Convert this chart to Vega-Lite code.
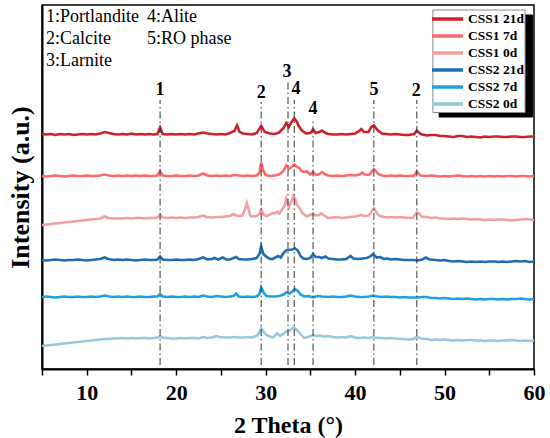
{
  "$schema": "https://vega.github.io/schema/vega-lite/v6.json",
  "width": 492,
  "height": 364,
  "autosize": "none",
  "padding": {"left": 42, "top": 5, "right": 16, "bottom": 69},
  "config": {
    "font": "Liberation Serif",
    "view": {"stroke": "black", "strokeWidth": 1.5},
    "axis": {"grid": false, "domainColor": "black", "domainWidth": 2, "tickColor": "black", "tickWidth": 1.5}
  },
  "datasets": {
    "css1_21d": [
      {"theta":5,"intensity":237},{"theta":5.5,"intensity":236.5},{"theta":6,"intensity":237},{"theta":6.5,"intensity":236},{"theta":7,"intensity":237},{"theta":7.5,"intensity":236.5},{"theta":8,"intensity":237},{"theta":8.5,"intensity":236},{"theta":9,"intensity":236.5},{"theta":9.5,"intensity":237},{"theta":10,"intensity":236.5},{"theta":10.5,"intensity":237},{"theta":11,"intensity":236.5},{"theta":11.5,"intensity":237.5},{"theta":12,"intensity":239},{"theta":12.5,"intensity":238},{"theta":13,"intensity":237},{"theta":13.5,"intensity":236.5},{"theta":14,"intensity":237},{"theta":14.5,"intensity":236.5},{"theta":15,"intensity":237.5},{"theta":15.5,"intensity":236.5},{"theta":16,"intensity":237},{"theta":16.5,"intensity":236.5},{"theta":17,"intensity":237},{"theta":17.5,"intensity":236.5},{"theta":17.9,"intensity":237},{"theta":18.2,"intensity":243.5},{"theta":18.5,"intensity":237},{"theta":19,"intensity":236.5},{"theta":19.5,"intensity":237},{"theta":20,"intensity":236.5},{"theta":20.5,"intensity":237},{"theta":21,"intensity":236.5},{"theta":21.5,"intensity":237},{"theta":22,"intensity":236.5},{"theta":22.5,"intensity":237.5},{"theta":23,"intensity":238.5},{"theta":23.5,"intensity":237.5},{"theta":24,"intensity":237},{"theta":24.5,"intensity":236.5},{"theta":25,"intensity":237},{"theta":25.5,"intensity":236.5},{"theta":26,"intensity":238},{"theta":26.5,"intensity":240},{"theta":26.8,"intensity":245.5},{"theta":27.1,"intensity":239},{"theta":27.5,"intensity":237.5},{"theta":28,"intensity":237},{"theta":28.5,"intensity":236.5},{"theta":29,"intensity":238},{"theta":29.5,"intensity":245},{"theta":29.9,"intensity":239},{"theta":30.5,"intensity":237.5},{"theta":31,"intensity":237},{"theta":31.5,"intensity":238.5},{"theta":32,"intensity":243},{"theta":32.3,"intensity":248},{"theta":32.6,"intensity":244},{"theta":32.9,"intensity":249},{"theta":33.2,"intensity":252.5},{"theta":33.5,"intensity":249},{"theta":33.7,"intensity":245},{"theta":34,"intensity":241},{"theta":34.5,"intensity":237.5},{"theta":35,"intensity":238},{"theta":35.3,"intensity":241.5},{"theta":35.6,"intensity":238},{"theta":36,"intensity":239},{"theta":36.3,"intensity":240.5},{"theta":36.7,"intensity":238},{"theta":37,"intensity":237},{"theta":37.5,"intensity":236.5},{"theta":38,"intensity":236.5},{"theta":38.5,"intensity":237},{"theta":39,"intensity":236.5},{"theta":39.5,"intensity":237},{"theta":40,"intensity":237.5},{"theta":40.4,"intensity":239.5},{"theta":40.7,"intensity":242},{"theta":41,"intensity":239},{"theta":41.5,"intensity":239},{"theta":41.8,"intensity":244},{"theta":42.1,"intensity":245.5},{"theta":42.5,"intensity":241},{"theta":43,"intensity":237.5},{"theta":43.5,"intensity":237},{"theta":44,"intensity":236.5},{"theta":44.5,"intensity":237},{"theta":45,"intensity":236.5},{"theta":45.5,"intensity":236},{"theta":46,"intensity":236},{"theta":46.6,"intensity":237},{"theta":46.9,"intensity":240.5},{"theta":47.3,"intensity":237},{"theta":48,"intensity":235.5},{"theta":48.5,"intensity":236},{"theta":49,"intensity":236},{"theta":49.5,"intensity":235},{"theta":50,"intensity":235},{"theta":50.5,"intensity":234.5},{"theta":51,"intensity":234},{"theta":51.5,"intensity":235},{"theta":52,"intensity":235},{"theta":52.5,"intensity":234},{"theta":53,"intensity":234.5},{"theta":53.5,"intensity":234},{"theta":54,"intensity":233.5},{"theta":54.5,"intensity":234.5},{"theta":55,"intensity":234},{"theta":55.5,"intensity":234.5},{"theta":56,"intensity":234.5},{"theta":56.5,"intensity":234},{"theta":57,"intensity":234},{"theta":57.5,"intensity":234.5},{"theta":58,"intensity":234.5},{"theta":58.5,"intensity":234},{"theta":59,"intensity":234},{"theta":59.5,"intensity":234.5},{"theta":60,"intensity":234.5}
    ],
    "css1_7d": [
      {"theta":5,"intensity":195},{"theta":5.5,"intensity":194.5},{"theta":6,"intensity":195},{"theta":6.5,"intensity":195.5},{"theta":7,"intensity":195},{"theta":7.5,"intensity":194.5},{"theta":8,"intensity":195},{"theta":8.5,"intensity":195.5},{"theta":9,"intensity":195},{"theta":9.5,"intensity":195},{"theta":10,"intensity":195.5},{"theta":10.5,"intensity":195},{"theta":11,"intensity":195},{"theta":11.5,"intensity":195.5},{"theta":12,"intensity":196.5},{"theta":12.5,"intensity":195.5},{"theta":13,"intensity":195},{"theta":13.5,"intensity":195.5},{"theta":14,"intensity":195},{"theta":14.5,"intensity":195.5},{"theta":15,"intensity":195},{"theta":15.5,"intensity":195.5},{"theta":16,"intensity":195},{"theta":16.5,"intensity":195.5},{"theta":17,"intensity":195},{"theta":17.5,"intensity":195},{"theta":17.9,"intensity":195.5},{"theta":18.2,"intensity":200},{"theta":18.5,"intensity":195.5},{"theta":19,"intensity":195},{"theta":19.5,"intensity":195},{"theta":20,"intensity":195.5},{"theta":20.5,"intensity":195},{"theta":21,"intensity":195},{"theta":21.5,"intensity":195.5},{"theta":22,"intensity":195},{"theta":22.5,"intensity":195.5},{"theta":23,"intensity":197.5},{"theta":23.5,"intensity":195.5},{"theta":24,"intensity":195},{"theta":24.5,"intensity":195.5},{"theta":25,"intensity":195},{"theta":25.5,"intensity":195.5},{"theta":26,"intensity":195},{"theta":26.5,"intensity":196},{"theta":27,"intensity":195.5},{"theta":27.5,"intensity":195},{"theta":28,"intensity":195.5},{"theta":28.5,"intensity":195},{"theta":29,"intensity":195.5},{"theta":29.3,"intensity":198},{"theta":29.5,"intensity":208.5},{"theta":29.75,"intensity":200},{"theta":30,"intensity":196},{"theta":30.5,"intensity":195},{"theta":31,"intensity":195.5},{"theta":31.5,"intensity":196.5},{"theta":32,"intensity":200},{"theta":32.3,"intensity":205.5},{"theta":32.6,"intensity":202},{"theta":32.9,"intensity":204},{"theta":33.2,"intensity":206.5},{"theta":33.5,"intensity":204},{"theta":33.7,"intensity":203.5},{"theta":34,"intensity":200},{"theta":34.3,"intensity":199},{"theta":34.6,"intensity":199.5},{"theta":35,"intensity":196.5},{"theta":35.3,"intensity":199},{"theta":35.6,"intensity":196},{"theta":36,"intensity":197},{"theta":36.3,"intensity":199},{"theta":36.7,"intensity":196.5},{"theta":37,"intensity":195.5},{"theta":37.5,"intensity":195},{"theta":38,"intensity":195.5},{"theta":38.5,"intensity":195},{"theta":39,"intensity":195.5},{"theta":39.5,"intensity":196},{"theta":40,"intensity":195.5},{"theta":40.5,"intensity":196.5},{"theta":40.8,"intensity":198.5},{"theta":41.2,"intensity":196},{"theta":41.6,"intensity":196.5},{"theta":42.1,"intensity":202},{"theta":42.6,"intensity":197},{"theta":43,"intensity":195.5},{"theta":43.5,"intensity":195},{"theta":44,"intensity":195.5},{"theta":44.5,"intensity":195},{"theta":45,"intensity":195.5},{"theta":45.5,"intensity":195},{"theta":46,"intensity":195},{"theta":46.6,"intensity":195.5},{"theta":46.9,"intensity":199.5},{"theta":47.3,"intensity":195.5},{"theta":48,"intensity":195},{"theta":48.5,"intensity":195.5},{"theta":49,"intensity":195},{"theta":49.5,"intensity":194.5},{"theta":50,"intensity":195},{"theta":50.5,"intensity":194.5},{"theta":51,"intensity":195},{"theta":51.5,"intensity":195.5},{"theta":52,"intensity":195},{"theta":52.5,"intensity":194.5},{"theta":53,"intensity":195},{"theta":53.5,"intensity":194.5},{"theta":54,"intensity":195},{"theta":54.5,"intensity":194.5},{"theta":55,"intensity":195},{"theta":55.5,"intensity":194.5},{"theta":56,"intensity":195},{"theta":56.5,"intensity":194.5},{"theta":57,"intensity":195},{"theta":57.5,"intensity":195},{"theta":58,"intensity":194.5},{"theta":58.5,"intensity":195},{"theta":59,"intensity":195},{"theta":59.5,"intensity":194.5},{"theta":60,"intensity":195}
    ],
    "css1_0d": [
      {"theta":5,"intensity":146},{"theta":5.5,"intensity":146.5},{"theta":6,"intensity":147},{"theta":6.5,"intensity":147.5},{"theta":7,"intensity":148},{"theta":7.5,"intensity":148.5},{"theta":8,"intensity":149},{"theta":8.5,"intensity":149.5},{"theta":9,"intensity":150},{"theta":9.5,"intensity":150.5},{"theta":10,"intensity":151},{"theta":10.5,"intensity":151.5},{"theta":11,"intensity":152},{"theta":11.5,"intensity":152.5},{"theta":12,"intensity":154.5},{"theta":12.4,"intensity":153},{"theta":13,"intensity":152.5},{"theta":13.5,"intensity":152.5},{"theta":14,"intensity":152.5},{"theta":14.5,"intensity":153},{"theta":15,"intensity":152.5},{"theta":15.5,"intensity":153},{"theta":16,"intensity":153},{"theta":16.5,"intensity":152.5},{"theta":17,"intensity":153},{"theta":17.5,"intensity":153},{"theta":17.9,"intensity":153.5},{"theta":18.2,"intensity":156},{"theta":18.5,"intensity":153.5},{"theta":19,"intensity":153},{"theta":19.5,"intensity":153.5},{"theta":20,"intensity":153},{"theta":20.5,"intensity":153.5},{"theta":21,"intensity":153},{"theta":21.5,"intensity":153.5},{"theta":22,"intensity":153.5},{"theta":22.5,"intensity":154},{"theta":23,"intensity":155.5},{"theta":23.4,"intensity":154},{"theta":24,"intensity":153.5},{"theta":24.5,"intensity":154},{"theta":25,"intensity":154},{"theta":25.5,"intensity":154.5},{"theta":26,"intensity":155},{"theta":26.4,"intensity":157},{"theta":26.7,"intensity":155.5},{"theta":27,"intensity":155},{"theta":27.4,"intensity":155.5},{"theta":27.7,"intensity":162},{"theta":27.9,"intensity":168},{"theta":28.1,"intensity":162},{"theta":28.3,"intensity":155},{"theta":28.6,"intensity":154.5},{"theta":29,"intensity":155},{"theta":29.3,"intensity":157},{"theta":29.5,"intensity":161.5},{"theta":29.8,"intensity":156},{"theta":30.1,"intensity":155},{"theta":30.5,"intensity":156.5},{"theta":30.8,"intensity":158},{"theta":31.1,"intensity":158},{"theta":31.3,"intensity":159.5},{"theta":31.5,"intensity":157.5},{"theta":31.8,"intensity":161},{"theta":32.1,"intensity":165},{"theta":32.3,"intensity":172.5},{"theta":32.6,"intensity":164},{"theta":32.9,"intensity":170},{"theta":33.1,"intensity":175},{"theta":33.3,"intensity":172},{"theta":33.5,"intensity":166},{"theta":33.8,"intensity":163},{"theta":34.1,"intensity":158},{"theta":34.6,"intensity":154.5},{"theta":35,"intensity":156},{"theta":35.3,"intensity":157.5},{"theta":35.6,"intensity":155.5},{"theta":36,"intensity":156},{"theta":36.2,"intensity":157.5},{"theta":36.6,"intensity":155},{"theta":37,"intensity":153},{"theta":37.5,"intensity":153.5},{"theta":38,"intensity":154},{"theta":38.5,"intensity":153},{"theta":39,"intensity":153.5},{"theta":39.5,"intensity":154},{"theta":40,"intensity":154.5},{"theta":40.4,"intensity":155.5},{"theta":40.7,"intensity":156},{"theta":41,"intensity":155},{"theta":41.5,"intensity":155.5},{"theta":41.8,"intensity":159},{"theta":42.1,"intensity":162.5},{"theta":42.5,"intensity":157},{"theta":42.8,"intensity":155},{"theta":43.2,"intensity":154},{"theta":43.7,"intensity":153.5},{"theta":44,"intensity":154},{"theta":44.5,"intensity":153.5},{"theta":45,"intensity":154},{"theta":45.5,"intensity":153.5},{"theta":46,"intensity":153},{"theta":46.5,"intensity":153.5},{"theta":46.9,"intensity":159},{"theta":47.2,"intensity":157},{"theta":47.5,"intensity":154},{"theta":48,"intensity":154},{"theta":48.5,"intensity":153},{"theta":49,"intensity":153.5},{"theta":49.5,"intensity":152.5},{"theta":50,"intensity":152.5},{"theta":50.5,"intensity":152},{"theta":51,"intensity":152.5},{"theta":51.5,"intensity":152},{"theta":52,"intensity":152.5},{"theta":52.5,"intensity":152},{"theta":53,"intensity":151.5},{"theta":53.5,"intensity":152},{"theta":54,"intensity":151.5},{"theta":54.5,"intensity":151},{"theta":55,"intensity":151.5},{"theta":55.5,"intensity":151},{"theta":56,"intensity":151.5},{"theta":56.5,"intensity":151.5},{"theta":57,"intensity":151},{"theta":57.5,"intensity":150.5},{"theta":58,"intensity":151},{"theta":58.5,"intensity":151.5},{"theta":59,"intensity":152},{"theta":59.5,"intensity":151.5},{"theta":60,"intensity":151}
    ],
    "css2_21d": [
      {"theta":5,"intensity":111},{"theta":5.5,"intensity":110.5},{"theta":6,"intensity":111},{"theta":6.5,"intensity":111.5},{"theta":7,"intensity":111},{"theta":7.5,"intensity":110.5},{"theta":8,"intensity":111},{"theta":8.5,"intensity":111},{"theta":9,"intensity":111.5},{"theta":9.5,"intensity":111},{"theta":10,"intensity":110.5},{"theta":10.5,"intensity":111},{"theta":11,"intensity":111.5},{"theta":11.5,"intensity":112},{"theta":12,"intensity":113.5},{"theta":12.4,"intensity":112},{"theta":13,"intensity":111},{"theta":13.5,"intensity":111.5},{"theta":14,"intensity":111},{"theta":14.5,"intensity":111.5},{"theta":15,"intensity":111},{"theta":15.5,"intensity":110.5},{"theta":16,"intensity":111},{"theta":16.5,"intensity":111.5},{"theta":17,"intensity":111},{"theta":17.5,"intensity":111},{"theta":17.9,"intensity":111.5},{"theta":18.2,"intensity":114.5},{"theta":18.5,"intensity":111.5},{"theta":19,"intensity":111},{"theta":19.5,"intensity":111},{"theta":20,"intensity":111.5},{"theta":20.5,"intensity":111},{"theta":21,"intensity":111},{"theta":21.5,"intensity":111.5},{"theta":22,"intensity":111},{"theta":22.5,"intensity":112},{"theta":23,"intensity":113.5},{"theta":23.5,"intensity":111.5},{"theta":24,"intensity":112},{"theta":24.3,"intensity":113},{"theta":24.7,"intensity":111.5},{"theta":25.2,"intensity":113.5},{"theta":25.6,"intensity":111.5},{"theta":26,"intensity":111.5},{"theta":26.7,"intensity":114},{"theta":27,"intensity":112},{"theta":27.5,"intensity":111.5},{"theta":28,"intensity":111.5},{"theta":28.5,"intensity":112},{"theta":29,"intensity":113},{"theta":29.3,"intensity":117},{"theta":29.5,"intensity":124.5},{"theta":29.75,"intensity":117},{"theta":30.1,"intensity":114},{"theta":30.5,"intensity":112},{"theta":30.8,"intensity":112},{"theta":31.1,"intensity":113.5},{"theta":31.4,"intensity":115},{"theta":31.7,"intensity":113.5},{"theta":32,"intensity":118},{"theta":32.3,"intensity":120.5},{"theta":32.6,"intensity":121},{"theta":33,"intensity":121.5},{"theta":33.3,"intensity":122.5},{"theta":33.6,"intensity":120.5},{"theta":33.9,"intensity":115},{"theta":34.2,"intensity":112.5},{"theta":34.6,"intensity":112},{"theta":35,"intensity":113},{"theta":35.3,"intensity":117},{"theta":35.6,"intensity":114},{"theta":36,"intensity":114},{"theta":36.3,"intensity":113},{"theta":36.7,"intensity":114.5},{"theta":37,"intensity":112.5},{"theta":37.5,"intensity":112},{"theta":38,"intensity":111.5},{"theta":38.5,"intensity":111.5},{"theta":39,"intensity":112},{"theta":39.5,"intensity":115},{"theta":39.8,"intensity":112.5},{"theta":40.3,"intensity":112},{"theta":40.8,"intensity":112.5},{"theta":41.3,"intensity":113},{"theta":41.7,"intensity":114.5},{"theta":42,"intensity":117},{"theta":42.4,"intensity":113.5},{"theta":42.8,"intensity":114},{"theta":43.2,"intensity":112},{"theta":43.6,"intensity":112.5},{"theta":44,"intensity":111.5},{"theta":44.5,"intensity":112},{"theta":45,"intensity":111.5},{"theta":45.5,"intensity":111},{"theta":46,"intensity":111},{"theta":46.5,"intensity":111},{"theta":47,"intensity":110.5},{"theta":47.5,"intensity":111.5},{"theta":47.9,"intensity":113.5},{"theta":48.3,"intensity":111.5},{"theta":49,"intensity":111},{"theta":49.5,"intensity":110.5},{"theta":50,"intensity":111},{"theta":50.5,"intensity":110},{"theta":51,"intensity":109.5},{"theta":51.5,"intensity":110},{"theta":52,"intensity":109.5},{"theta":52.5,"intensity":109},{"theta":53,"intensity":109.5},{"theta":53.5,"intensity":109},{"theta":54,"intensity":109.5},{"theta":54.5,"intensity":109},{"theta":55,"intensity":109.5},{"theta":55.5,"intensity":109.5},{"theta":56,"intensity":109},{"theta":56.5,"intensity":109.5},{"theta":57,"intensity":109},{"theta":57.5,"intensity":109.5},{"theta":58,"intensity":110},{"theta":58.5,"intensity":109.5},{"theta":59,"intensity":110},{"theta":59.5,"intensity":109},{"theta":60,"intensity":109.5}
    ],
    "css2_7d": [
      {"theta":5,"intensity":74},{"theta":5.5,"intensity":74.5},{"theta":6,"intensity":74},{"theta":6.5,"intensity":73.5},{"theta":7,"intensity":74},{"theta":7.5,"intensity":74.5},{"theta":8,"intensity":74},{"theta":8.5,"intensity":74},{"theta":9,"intensity":74.5},{"theta":9.5,"intensity":74},{"theta":10,"intensity":74},{"theta":10.5,"intensity":74.5},{"theta":11,"intensity":74},{"theta":11.5,"intensity":74.5},{"theta":12,"intensity":75.5},{"theta":12.5,"intensity":74.5},{"theta":13,"intensity":74},{"theta":13.5,"intensity":74.5},{"theta":14,"intensity":74},{"theta":14.5,"intensity":74.5},{"theta":15,"intensity":74},{"theta":15.5,"intensity":74},{"theta":16,"intensity":74.5},{"theta":16.5,"intensity":74},{"theta":17,"intensity":74},{"theta":17.5,"intensity":74.5},{"theta":17.9,"intensity":74.5},{"theta":18.2,"intensity":77},{"theta":18.5,"intensity":74.5},{"theta":19,"intensity":74},{"theta":19.5,"intensity":74.5},{"theta":20,"intensity":74},{"theta":20.5,"intensity":74},{"theta":21,"intensity":74.5},{"theta":21.5,"intensity":74},{"theta":22,"intensity":74.5},{"theta":22.5,"intensity":74},{"theta":23,"intensity":75.5},{"theta":23.5,"intensity":74.5},{"theta":24,"intensity":74},{"theta":24.5,"intensity":75},{"theta":25,"intensity":74.5},{"theta":25.5,"intensity":74},{"theta":26,"intensity":74.5},{"theta":26.4,"intensity":75},{"theta":26.7,"intensity":77.5},{"theta":27,"intensity":74.5},{"theta":27.5,"intensity":74},{"theta":28,"intensity":74.5},{"theta":28.5,"intensity":74},{"theta":29,"intensity":74.5},{"theta":29.3,"intensity":77},{"theta":29.5,"intensity":83.5},{"theta":29.8,"intensity":78},{"theta":30.1,"intensity":75},{"theta":30.5,"intensity":74.5},{"theta":31,"intensity":74.5},{"theta":31.5,"intensity":75},{"theta":32,"intensity":76.5},{"theta":32.3,"intensity":78.5},{"theta":32.7,"intensity":77.5},{"theta":33,"intensity":80},{"theta":33.3,"intensity":82},{"theta":33.6,"intensity":80},{"theta":33.9,"intensity":76.5},{"theta":34.3,"intensity":74.5},{"theta":34.8,"intensity":75},{"theta":35.3,"intensity":73.5},{"theta":35.8,"intensity":75},{"theta":36.3,"intensity":74.5},{"theta":37,"intensity":74},{"theta":37.5,"intensity":74.5},{"theta":38,"intensity":74},{"theta":38.5,"intensity":74},{"theta":39,"intensity":74.5},{"theta":39.5,"intensity":75.5},{"theta":40,"intensity":74.5},{"theta":40.5,"intensity":74},{"theta":41,"intensity":74},{"theta":41.5,"intensity":74.5},{"theta":42,"intensity":75.5},{"theta":42.5,"intensity":74.5},{"theta":43,"intensity":74},{"theta":43.5,"intensity":74.5},{"theta":44,"intensity":74},{"theta":44.5,"intensity":74},{"theta":45,"intensity":73.5},{"theta":45.5,"intensity":74},{"theta":46,"intensity":73.5},{"theta":46.5,"intensity":73.5},{"theta":47,"intensity":73.5},{"theta":47.5,"intensity":74},{"theta":48,"intensity":74},{"theta":48.5,"intensity":73},{"theta":49,"intensity":73},{"theta":49.5,"intensity":72.5},{"theta":50,"intensity":73},{"theta":50.5,"intensity":72.5},{"theta":51,"intensity":72},{"theta":51.5,"intensity":72.5},{"theta":52,"intensity":72},{"theta":52.5,"intensity":72.5},{"theta":53,"intensity":72},{"theta":53.5,"intensity":71.5},{"theta":54,"intensity":72},{"theta":54.5,"intensity":71.5},{"theta":55,"intensity":72},{"theta":55.5,"intensity":72},{"theta":56,"intensity":71.5},{"theta":56.5,"intensity":72},{"theta":57,"intensity":71.5},{"theta":57.5,"intensity":72},{"theta":58,"intensity":72},{"theta":58.5,"intensity":72.5},{"theta":59,"intensity":72},{"theta":59.5,"intensity":71.5},{"theta":60,"intensity":72}
    ],
    "css2_0d": [
      {"theta":5,"intensity":25},{"theta":5.5,"intensity":25.5},{"theta":6,"intensity":26},{"theta":6.5,"intensity":26.5},{"theta":7,"intensity":27},{"theta":7.5,"intensity":27.5},{"theta":8,"intensity":28},{"theta":8.5,"intensity":28.5},{"theta":9,"intensity":29},{"theta":9.5,"intensity":29.5},{"theta":10,"intensity":30},{"theta":10.5,"intensity":30.5},{"theta":11,"intensity":31},{"theta":11.5,"intensity":31.5},{"theta":12,"intensity":32},{"theta":12.5,"intensity":32},{"theta":13,"intensity":32.5},{"theta":13.5,"intensity":32.5},{"theta":14,"intensity":33},{"theta":14.5,"intensity":32.5},{"theta":15,"intensity":33},{"theta":15.5,"intensity":32.5},{"theta":16,"intensity":33},{"theta":16.5,"intensity":33},{"theta":17,"intensity":32.5},{"theta":17.5,"intensity":33},{"theta":17.9,"intensity":33.5},{"theta":18.2,"intensity":34.5},{"theta":18.6,"intensity":33},{"theta":19,"intensity":33},{"theta":19.5,"intensity":32.5},{"theta":20,"intensity":32.5},{"theta":20.5,"intensity":33},{"theta":21,"intensity":32.5},{"theta":21.5,"intensity":33},{"theta":22,"intensity":33},{"theta":22.5,"intensity":32.5},{"theta":23,"intensity":34},{"theta":23.5,"intensity":33},{"theta":24,"intensity":33.5},{"theta":24.5,"intensity":35},{"theta":24.9,"intensity":34},{"theta":25.5,"intensity":33.5},{"theta":26,"intensity":33.5},{"theta":26.5,"intensity":34},{"theta":27,"intensity":33.5},{"theta":27.5,"intensity":33.5},{"theta":28,"intensity":34},{"theta":28.5,"intensity":33.5},{"theta":29,"intensity":35},{"theta":29.3,"intensity":38.5},{"theta":29.5,"intensity":43},{"theta":29.8,"intensity":39},{"theta":30.1,"intensity":36},{"theta":30.5,"intensity":34.5},{"theta":30.8,"intensity":33.5},{"theta":31.1,"intensity":36},{"theta":31.3,"intensity":37.5},{"theta":31.6,"intensity":35},{"theta":31.9,"intensity":36.5},{"theta":32.3,"intensity":39.5},{"theta":32.6,"intensity":40},{"theta":32.9,"intensity":42},{"theta":33.1,"intensity":43.5},{"theta":33.4,"intensity":42},{"theta":33.7,"intensity":39},{"theta":34,"intensity":36},{"theta":34.3,"intensity":33},{"theta":34.7,"intensity":34},{"theta":35.3,"intensity":36},{"theta":35.7,"intensity":35},{"theta":36.1,"intensity":35.5},{"theta":36.5,"intensity":34.5},{"theta":37,"intensity":35},{"theta":37.5,"intensity":34},{"theta":38,"intensity":33.5},{"theta":38.5,"intensity":34},{"theta":39,"intensity":33.5},{"theta":39.5,"intensity":35},{"theta":40,"intensity":33.5},{"theta":40.5,"intensity":33},{"theta":41,"intensity":33.5},{"theta":41.5,"intensity":33},{"theta":42,"intensity":34},{"theta":42.5,"intensity":33},{"theta":43,"intensity":33},{"theta":43.5,"intensity":32.5},{"theta":44,"intensity":33},{"theta":44.5,"intensity":32.5},{"theta":45,"intensity":32},{"theta":45.5,"intensity":32},{"theta":46,"intensity":31.5},{"theta":46.5,"intensity":32},{"theta":46.9,"intensity":34},{"theta":47.4,"intensity":32.5},{"theta":48,"intensity":32},{"theta":48.5,"intensity":31},{"theta":49,"intensity":31.5},{"theta":49.5,"intensity":31},{"theta":50,"intensity":31.5},{"theta":50.5,"intensity":31},{"theta":51,"intensity":30.5},{"theta":51.5,"intensity":31},{"theta":52,"intensity":30.5},{"theta":52.5,"intensity":31},{"theta":53,"intensity":31},{"theta":53.5,"intensity":30.5},{"theta":54,"intensity":30.5},{"theta":54.5,"intensity":30},{"theta":55,"intensity":30.5},{"theta":55.5,"intensity":30.5},{"theta":56,"intensity":30},{"theta":56.5,"intensity":30.5},{"theta":57,"intensity":30.5},{"theta":57.5,"intensity":31},{"theta":58,"intensity":30.5},{"theta":58.5,"intensity":30},{"theta":59,"intensity":30.5},{"theta":59.5,"intensity":30},{"theta":60,"intensity":30.5}
    ],
    "peaks": [
      {"theta":18.2,"label":"1","label_theta":18.2,"bottom":6,"top":271,"label_y":281},
      {"theta":29.5,"label":"2","label_theta":29.5,"bottom":6,"top":269,"label_y":278},
      {"theta":32.5,"label":"3","label_theta":32.4,"bottom":6,"top":289,"label_y":299},
      {"theta":33.2,"label":"4","label_theta":33.4,"bottom":6,"top":271,"label_y":282},
      {"theta":35.3,"label":"4","label_theta":35.3,"bottom":6,"top":251,"label_y":262},
      {"theta":42.1,"label":"5","label_theta":42.1,"bottom":6,"top":271,"label_y":281},
      {"theta":46.9,"label":"2","label_theta":46.85,"bottom":6,"top":271,"label_y":280}
    ],
    "phases": [
      {"theta":5.45,"y":354,"text":"1:Portlandite"},
      {"theta":5.45,"y":332,"text":"2:Calcite"},
      {"theta":5.45,"y":310,"text":"3:Larnite"},
      {"theta":16.75,"y":354,"text":"4:Alite"},
      {"theta":16.75,"y":332,"text":"5:RO phase"}
    ],
    "legend_box": [
      {"x":49.4,"x2":59.85,"y":254,"y2":356,"part":"shadow"},
      {"x":48.7,"x2":59.0,"y":258.5,"y2":361,"part":"box"}
    ]
  },
  "layer": [
    {
      "data": {"name": "legend_box"},
      "mark": {"type": "rect", "strokeWidth": 1},
      "encoding": {
        "x": {"field": "x", "type": "quantitative"},
        "x2": {"field": "x2"},
        "y": {"field": "y", "type": "quantitative"},
        "y2": {"field": "y2"},
        "fill": {"field": "part", "type": "nominal", "scale": {"domain": ["shadow", "box"], "range": ["black", "white"]}, "legend": null},
        "stroke": {"field": "part", "type": "nominal", "scale": {"domain": ["shadow", "box"], "range": ["black", "#8a8a8a"]}, "legend": null}
      }
    },
    {
      "data": {"name": "css2_0d"},
      "mark": {"type": "line", "strokeWidth": 2.6},
      "encoding": {
        "x": {
          "field": "theta", "type": "quantitative",
          "scale": {"domain": [5, 60], "nice": false, "zero": false},
          "axis": {
            "title": "2 Theta (°)",
            "titleFont": "Liberation Serif", "titleFontSize": 24, "titleFontWeight": "bold", "titleColor": "black", "titlePadding": 10,
            "values": [5, 10, 15, 20, 25, 30, 35, 40, 45, 50, 55, 60],
            "labelExpr": "datum.value % 10 === 0 ? datum.label : ''",
            "labelFont": "Liberation Serif", "labelFontSize": 22, "labelFontWeight": "bold", "labelColor": "black",
            "labelPadding": 7, "labelFlush": false, "tickSize": 6
          }
        },
        "y": {
          "field": "intensity", "type": "quantitative",
          "scale": {"domain": [2, 366], "nice": false, "zero": false},
          "axis": {
            "title": "Intensity (a.u.)",
            "titleFont": "Liberation Serif", "titleFontSize": 26, "titleFontWeight": "bold", "titleColor": "black", "titlePadding": 9,
            "labels": false, "ticks": false
          }
        },
        "color": {
          "datum": "CSS2 0d", "type": "nominal",
          "scale": {
            "domain": ["CSS1 21d", "CSS1 7d", "CSS1 0d", "CSS2 21d", "CSS2 7d", "CSS2 0d"],
            "range": ["#d0202a", "#fb6b6b", "#f0a0a3", "#1f6db3", "#1ba2e3", "#97c8df"]
          },
          "legend": {
            "title": null, "orient": "none", "legendX": 388, "legendY": 5.6,
            "symbolType": "stroke", "symbolSize": 961, "symbolStrokeWidth": 3.5,
            "labelFont": "Liberation Serif", "labelFontSize": 13.5, "labelFontWeight": "bold", "labelColor": "black",
            "labelOffset": 3, "padding": 0, "rowPadding": 0, "clipHeight": 16.8
          }
        }
      }
    },
    {
      "data": {"name": "css2_7d"},
      "mark": {"type": "line", "strokeWidth": 2.6},
      "encoding": {"x": {"field": "theta", "type": "quantitative"}, "y": {"field": "intensity", "type": "quantitative"}, "color": {"datum": "CSS2 7d", "type": "nominal"}}
    },
    {
      "data": {"name": "css2_21d"},
      "mark": {"type": "line", "strokeWidth": 2.6},
      "encoding": {"x": {"field": "theta", "type": "quantitative"}, "y": {"field": "intensity", "type": "quantitative"}, "color": {"datum": "CSS2 21d", "type": "nominal"}}
    },
    {
      "data": {"name": "css1_0d"},
      "mark": {"type": "line", "strokeWidth": 2.6},
      "encoding": {"x": {"field": "theta", "type": "quantitative"}, "y": {"field": "intensity", "type": "quantitative"}, "color": {"datum": "CSS1 0d", "type": "nominal"}}
    },
    {
      "data": {"name": "css1_7d"},
      "mark": {"type": "line", "strokeWidth": 2.6},
      "encoding": {"x": {"field": "theta", "type": "quantitative"}, "y": {"field": "intensity", "type": "quantitative"}, "color": {"datum": "CSS1 7d", "type": "nominal"}}
    },
    {
      "data": {"name": "css1_21d"},
      "mark": {"type": "line", "strokeWidth": 2.6},
      "encoding": {"x": {"field": "theta", "type": "quantitative"}, "y": {"field": "intensity", "type": "quantitative"}, "color": {"datum": "CSS1 21d", "type": "nominal"}}
    },
    {
      "data": {"name": "peaks"},
      "mark": {"type": "rule", "color": "#333333", "strokeWidth": 1, "strokeDash": [7, 3, 1.5, 3]},
      "encoding": {
        "x": {"field": "theta", "type": "quantitative"},
        "y": {"field": "bottom", "type": "quantitative"},
        "y2": {"field": "top"}
      }
    },
    {
      "data": {"name": "peaks"},
      "mark": {"type": "text", "font": "Liberation Serif", "fontSize": 18, "fontWeight": "bold", "color": "black", "baseline": "middle", "align": "center"},
      "encoding": {
        "x": {"field": "label_theta", "type": "quantitative"},
        "y": {"field": "label_y", "type": "quantitative"},
        "text": {"field": "label"}
      }
    },
    {
      "data": {"name": "phases"},
      "mark": {"type": "text", "font": "Liberation Serif", "fontSize": 18, "color": "black", "baseline": "middle", "align": "left"},
      "encoding": {
        "x": {"field": "theta", "type": "quantitative"},
        "y": {"field": "y", "type": "quantitative"},
        "text": {"field": "text"}
      }
    }
  ]
}
